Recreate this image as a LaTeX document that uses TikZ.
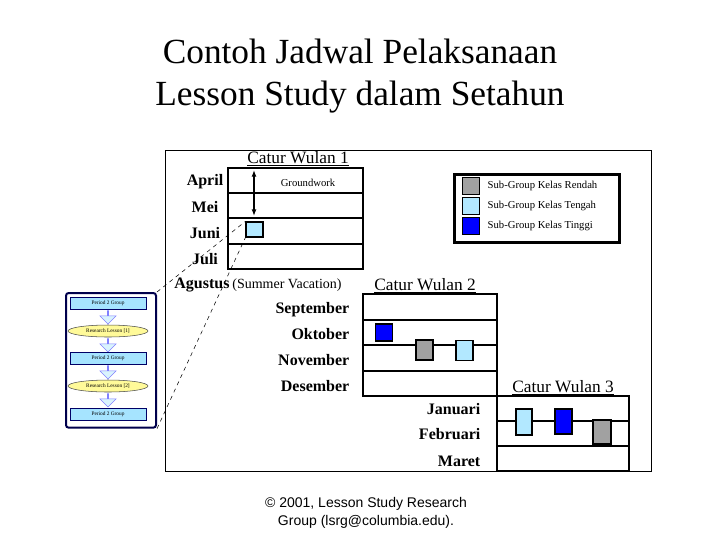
\documentclass[tikz,border=0pt]{standalone}
\usepackage{fontspec}
\setmainfont{Liberation Serif}
\newfontfamily\arial{Liberation Sans}
\usetikzlibrary{arrows.meta,shapes.geometric,shapes.arrows}
\begin{document}
\begin{tikzpicture}[x=0.75pt,y=-0.75pt,
  tbl/.style={draw,line width=1.5pt},
  row/.style={line width=1.5pt},
  mon/.style={font=\fontsize{12}{13}\selectfont\bfseries},
  hdr/.style={font=\fontsize{13}{14}\selectfont,anchor=base},
  sw/.style={draw,line width=1.2pt,inner sep=0pt},
  gray box/.style={sw,fill=gray!95!black!70},
  lb box/.style={sw,fill=blue!30!cyan!30},
  db box/.style={sw,fill=blue},
  leg/.style={font=\fontsize{8}{9}\selectfont,anchor=west},
  pg/.style={draw=blue!40!black,fill=blue!30!cyan!35,minimum width=57pt,minimum height=9pt,inner sep=0pt,font=\fontsize{4}{4}\selectfont},
  rl/.style={ellipse,draw=black!70,fill=yellow!40,minimum width=60pt,minimum height=9pt,inner sep=0pt,font=\fontsize{4}{4}\selectfont},
  dn/.style={single arrow,shape border rotate=270,draw=blue!50,fill=cyan!15,minimum height=10pt,minimum width=12pt,single arrow head extend=3pt,inner sep=0pt}]
\useasboundingbox (0,0) rectangle (720,540);
\node[font=\fontsize{26.5}{31}\selectfont,align=center] (title) at (360,76) {Contoh Jadwal Pelaksanaan\\Lesson Study dalam Setahun};
\node[draw,minimum width=364.5pt,minimum height=241pt,inner sep=0pt,anchor=north west] (frame) at (165,150) {};
% CW1
\node[hdr] (h1) at (298,163) {\underline{Catur Wulan 1}};
\draw[tbl] (228,168) rectangle (363,269);
\foreach \y in {193,218,244} \draw[row] (228,\y) -- (363,\y);
\node[mon] (apr) at (205,182) {April};
\node[mon] (mei) at (205,207) {Mei};
\node[mon] (jun) at (205,233) {Juni};
\node[mon] (jul) at (205,259) {Juli};
\node[mon] (agu) at (202,285) {Agustus};
\node[font=\fontsize{10.5}{11}\selectfont] (sv) at (287,285) {(Summer Vacation)};
\coordinate (ga) at (254,170); \coordinate (gb) at (254,216);
\draw[line width=1.2pt,{Latex[length=5pt]}-{Latex[length=5pt]}] (ga) -- (gb);
\node[font=\fontsize{8}{9}\selectfont] (gw) at (308,183) {Groundwork};
\node[lb box,minimum width=12.5pt,minimum height=11pt] (jb) at (254.5,229.5) {};
% legend
\node[draw,line width=2pt,minimum width=124pt,minimum height=51pt,anchor=north west] (legend) at (453,173) {};
\node[gray box,minimum width=12.5pt,minimum height=12.5pt] (s1) at (471,186) {};
\node[lb box,minimum width=12.5pt,minimum height=12.5pt] (s2) at (471,206) {};
\node[db box,minimum width=12.5pt,minimum height=12.5pt] (s3) at (471,226) {};
\node[leg] (l1) at (483,186) {Sub-Group Kelas Rendah};
\node[leg] (l2) at (483,206) {Sub-Group Kelas Tengah};
\node[leg] (l3) at (483,226) {Sub-Group Kelas Tinggi};
% CW2
\node[hdr] (h2) at (425,290) {\underline{Catur Wulan 2}};
\draw[tbl] (363,294) rectangle (497,396);
\foreach \y in {320,345,371} \draw[row] (363,\y) -- (497,\y);
\node[mon,anchor=east] (sep) at (354,310) {September};
\node[mon,anchor=east] (okt) at (354,334) {Oktober};
\node[mon,anchor=east] (nov) at (354,360) {November};
\node[mon,anchor=east] (des) at (354,386) {Desember};
\node[db box,minimum width=12.5pt,minimum height=13pt] (b1) at (384,332.5) {};
\node[gray box,minimum width=12.5pt,minimum height=15pt] (b2) at (424.5,350) {};
\node[lb box,minimum width=12.5pt,minimum height=15pt] (b3) at (464.5,350.5) {};
% CW3
\node[hdr] (h3) at (563,392) {\underline{Catur Wulan 3}};
\draw[tbl] (497,396) rectangle (629,471);
\foreach \y in {421,446} \draw[row] (497,\y) -- (629,\y);
\node[mon,anchor=east] (jan) at (485,409) {Januari};
\node[mon,anchor=east] (feb) at (485,434) {Februari};
\node[mon,anchor=east] (mar) at (485,461) {Maret};
\node[lb box,minimum width=12pt,minimum height=19.5pt] (c1) at (524,422) {};
\node[db box,minimum width=12.5pt,minimum height=19pt] (c2) at (563.5,421.5) {};
\node[gray box,minimum width=13.5pt,minimum height=18pt] (c3) at (602,432) {};
% inset
\node[draw=blue!30!black,line width=1.5pt,rounded corners=2pt,minimum width=67.5pt,minimum height=101pt,anchor=north west] (inset) at (65,292) {};
\node[pg] (p1) at (108,303) {Period 2 Group};
\node[dn] (d1) at (108,317) {};
\node[rl] (r1) at (108,331) {Research Lesson [1]};
\node[dn] (d2) at (108,345) {};
\node[pg] (p2) at (108,358) {Period 2 Group};
\node[dn] (d3) at (108,372) {};
\node[rl] (r2) at (108,386) {Research Lesson [2]};
\node[dn] (d4) at (108,400) {};
\node[pg] (p3) at (108,414) {Period 2 Group};
\draw[dashed,thin] (inset.north east) -- (jb.north west);
\draw[dashed,thin] (inset.south east) -- (jb.south west);
% footer
\node[font=\arial\fontsize{10.5}{14}\selectfont,align=center] (ft) at (366,513) {© 2001, Lesson Study Research\\Group (lsrg@columbia.edu).};
\end{tikzpicture}
\end{document}
